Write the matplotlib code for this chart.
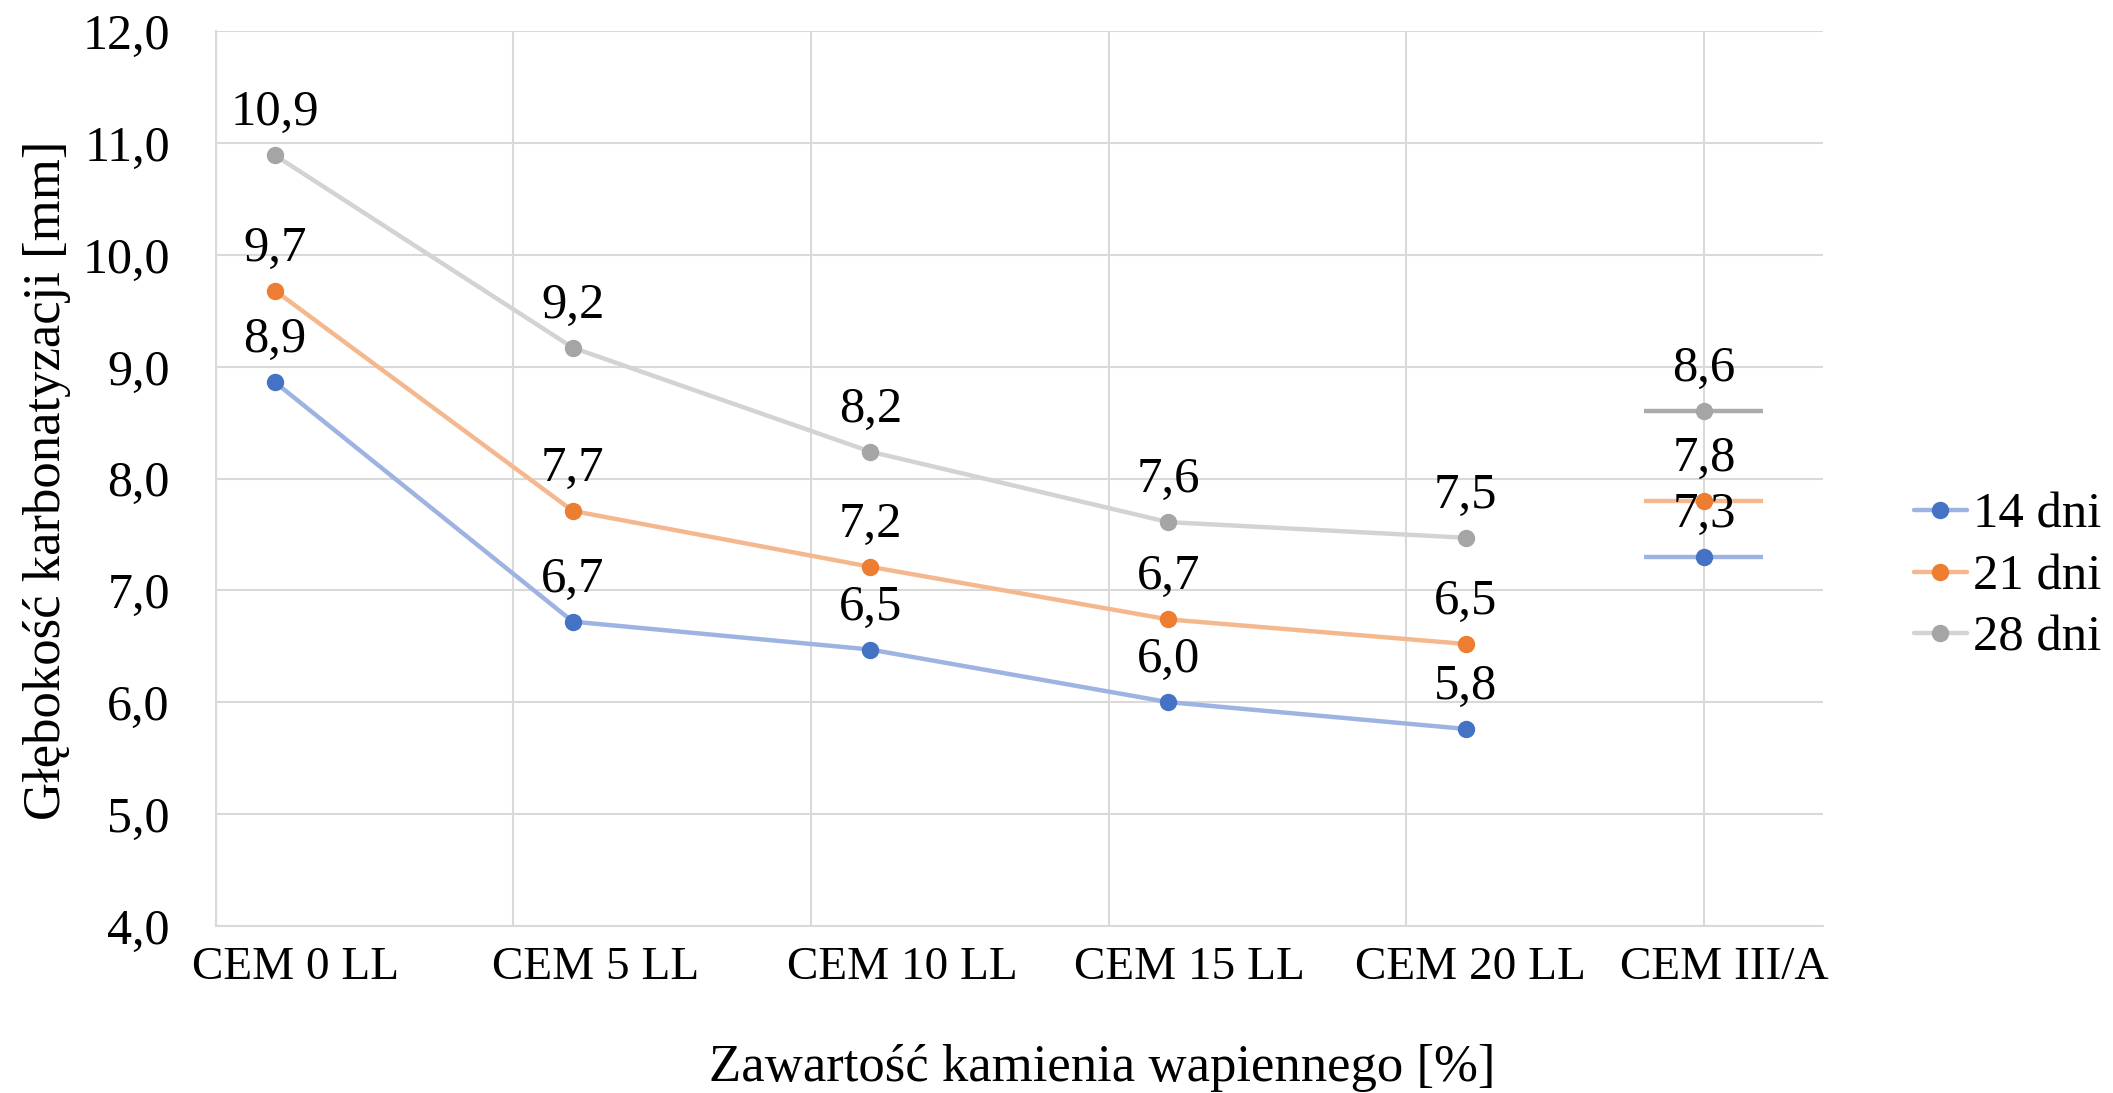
import matplotlib
matplotlib.use("Agg")
import matplotlib.pyplot as plt

# Carbonation depth [mm] per cement type, after 14 / 21 / 28 days
categories = ["CEM 0 LL", "CEM 5 LL", "CEM 10 LL", "CEM 15 LL", "CEM 20 LL", "CEM III/A"]
series_names = ["14 dni", "21 dni", "28 dni"]
depth_14 = [8.86, 6.72, 6.47, 6.00, 5.76, 7.30]
depth_21 = [9.68, 7.71, 7.21, 6.74, 6.52, 7.80]
depth_28 = [10.89, 9.17, 8.24, 7.61, 7.47, 8.60]

# x positions of the measurement points and of the category captions
point_x = [0.2, 1.2, 2.2, 3.2, 4.2, 5.0]
label_x = [0.267, 1.276, 2.307, 3.271, 4.214, 5.067]
ref_halfwidth = 0.2
y_ticks = [4, 5, 6, 7, 8, 9, 10, 11, 12]

marker_colors = ["#4472C4", "#ED7D31", "#A5A5A5"]
line_colors = ["#9DB4E2", "#F5B88E", "#D3D3D3"]
ref_colors = ["#9DB4E2", "#F5B88E", "#ABABAB"]
grid_color = "#D9D9D9"

plt.rcParams["font.family"] = ["Liberation Serif", "DejaVu Serif"]

fig = plt.figure(figsize=(21.13, 10.93), dpi=100)
ax = fig.add_axes([215.6 / 2113, 167.3 / 1093, (1823 - 215.6) / 2113, (925.7 - 31.3) / 1093])

all_series = [depth_14, depth_21, depth_28]
for name, vals, mc, lc, rc in zip(series_names, all_series, marker_colors, line_colors, ref_colors):
    ax.plot(point_x[:5], vals[:5], color=lc, lw=3.2, marker="o", ms=11.5,
            mfc=mc, mec=mc, label=name, zorder=3, solid_capstyle="round")
    ax.errorbar([point_x[5]], [vals[5]], xerr=ref_halfwidth, fmt="none",
                ecolor=rc, elinewidth=3.2, capsize=0, zorder=2)
    ax.plot([point_x[5]], [vals[5]], ls="none", marker="o", ms=11.5,
            mfc=mc, mec=mc, zorder=4)
    for x, v in zip(point_x, vals):
        ax.annotate(f"{v:.1f}".replace(".", ","), (x, v), xytext=(0, 30),
                    textcoords="offset pixels", ha="center", va="baseline",
                    fontsize=36.5, color="black", zorder=5)

ax.set_xlim(0, 5.4)
ax.set_ylim(4, 12)
ax.set_yticks(y_ticks)
ax.set_yticklabels([f"{t:.1f}".replace(".", ",") for t in y_ticks], fontsize=36)
ax.set_xticks(label_x)
ax.set_xticklabels(categories, fontsize=34)
ax.set_xticks(range(6), minor=True)
ax.tick_params(axis="y", length=0, pad=33)
ax.tick_params(axis="x", which="both", length=0, pad=15)

ax.grid(axis="y", which="major", color=grid_color, lw=1.5)
ax.grid(axis="x", which="minor", color=grid_color, lw=1.5)
ax.grid(axis="x", which="major", visible=False)
ax.set_axisbelow(True)
for side in ["top", "right"]:
    ax.spines[side].set_visible(False)
for side in ["left", "bottom"]:
    ax.spines[side].set_color(grid_color)
    ax.spines[side].set_linewidth(1.5)

fig.text(47 / 2113, 1 - 480 / 1093, "Głębokość karbonatyzacji [mm]", rotation=90,
         ha="center", va="center", fontsize=38)
fig.text(1101.7 / 2113, 1 - 1068 / 1093, "Zawartość kamienia wapiennego [%]",
         ha="center", va="center", fontsize=38)

fig.legend(loc="center left", bbox_to_anchor=(1914 / 2113, 1 - 577 / 1093),
           frameon=False, fontsize=36.5, handlelength=1.04, handletextpad=0.12,
           labelspacing=0.3, borderpad=0, borderaxespad=0)

fig.savefig("out.png", dpi=100)
